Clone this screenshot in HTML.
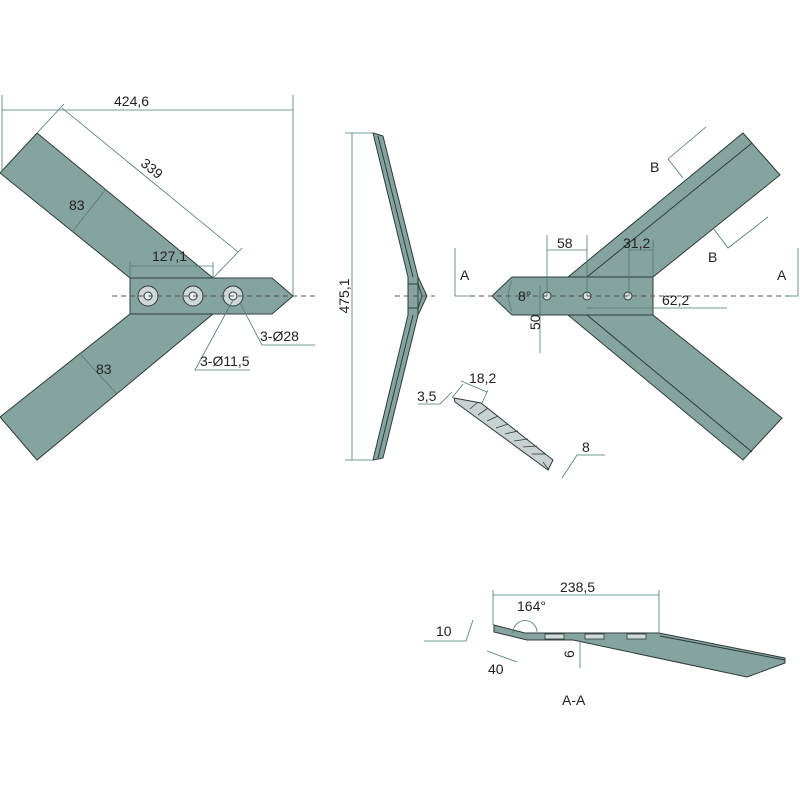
<!DOCTYPE html>
<html><head><meta charset="utf-8"><style>
html,body{margin:0;padding:0;background:#fff}
svg{display:block}
text{font-family:"Liberation Sans",sans-serif;font-size:14px;fill:#222}
</style></head><body>
<svg width="800" height="800" viewBox="0 0 800 800" xmlns="http://www.w3.org/2000/svg">
<g fill="#86a49f" stroke="#2c3b39" stroke-width="1">
<polygon points="37,133 213,278 130,278 0,173"/>
<polygon points="130,314 213,314 37,460 0,417"/>
<polygon points="130,278 272,278 293,296 272,314 130,314"/>
<polygon points="373,133 383,136 418,277 427,296 418,315 383,458 373,460 408,315 408,277"/>
<polygon points="568,277 743,133 780,175 653,277"/>
<polygon points="568,315 653,315 782,418 743,460"/>
<polygon points="512,277 653,277 653,315 512,315 492,296"/>
<polygon points="494,625 525,633 659,633 785,658 785,663 747,677 573,640 527,640 494,632"/>
</g>
<g fill="none" stroke="#2c3b39" stroke-width="1">
<line x1="378" y1="136" x2="413" y2="277"/><line x1="378" y1="458" x2="413" y2="315"/>
<line x1="418" y1="277" x2="418" y2="315"/>
<polyline points="408,284 418,284 422,296 418,308 408,308"/>
<line x1="587" y1="277" x2="752" y2="143"/><line x1="587" y1="315" x2="752" y2="452"/>
<line x1="660" y1="636" x2="785" y2="660"/>
</g>
<g stroke="#2c3b39" stroke-width="1">
<circle cx="148" cy="296" r="10" fill="#cfd8d6"/><circle cx="148" cy="296" r="4" fill="#e8eeed"/>
<circle cx="193" cy="296" r="10" fill="#cfd8d6"/><circle cx="193" cy="296" r="4" fill="#e8eeed"/>
<circle cx="233" cy="296" r="10" fill="#cfd8d6"/><circle cx="233" cy="296" r="4" fill="#e8eeed"/>
<circle cx="547" cy="296" r="4" fill="#d8e0de"/><circle cx="587" cy="296" r="4" fill="#d8e0de"/><circle cx="628" cy="296" r="4" fill="#d8e0de"/>
</g>
<g fill="#d2dad8" stroke="#2c3b39" stroke-width="0.8">
<rect x="545" y="634" width="19" height="5"/><rect x="585" y="634" width="19" height="5"/><rect x="627" y="634" width="19" height="5"/>
</g>
<polygon points="454,398 481,403 553,460 548,470 455,402" fill="#c8d2d0" stroke="#2c3b39"/>
<g stroke="#2c3b39" stroke-width="0.8">
<line x1="470" y1="409" x2="478" y2="402"/><line x1="478" y1="415" x2="488" y2="408"/>
<line x1="487" y1="421" x2="498" y2="416"/><line x1="496" y1="428" x2="508" y2="424"/>
<line x1="505" y1="434" x2="518" y2="431"/><line x1="514" y1="441" x2="528" y2="439"/>
<line x1="523" y1="447" x2="537" y2="446"/><line x1="532" y1="454" x2="546" y2="454"/>
<line x1="543" y1="462" x2="549" y2="470"/>
</g>
<g stroke="#555" stroke-width="1" stroke-dasharray="5,4" fill="none">
<line x1="112" y1="296" x2="315" y2="296"/>
<line x1="395" y1="296" x2="435" y2="296"/>
<line x1="470" y1="296" x2="790" y2="296"/>
</g>
<g stroke="#4a7a70" stroke-width="0.8" fill="none">
<line x1="2" y1="95" x2="2" y2="172"/><line x1="293" y1="95" x2="293" y2="296"/>
<line x1="2" y1="110" x2="293" y2="110"/>
<line x1="37" y1="133" x2="64" y2="104"/><line x1="213" y1="278" x2="242" y2="248"/>
<line x1="62" y1="108" x2="238" y2="252"/>
<line x1="72" y1="232" x2="106" y2="189"/><line x1="81" y1="355" x2="116" y2="393"/>
<line x1="130" y1="262" x2="130" y2="278"/><line x1="213" y1="262" x2="213" y2="278"/>
<line x1="130" y1="266" x2="213" y2="266"/>
<polyline points="240,303 262,345 315,345"/>
<polyline points="233,300 195,370 250,370"/>
<line x1="352" y1="133" x2="352" y2="460"/>
<line x1="345" y1="133" x2="375" y2="133"/><line x1="345" y1="460" x2="375" y2="460"/>
<polyline points="455,248 455,296 470,296"/><polyline points="798,248 798,296 785,296"/>
<polyline points="706,127 668,159 683,178"/><polyline points="768,217 728,248 713,228"/>
<line x1="547" y1="235" x2="547" y2="296"/><line x1="587" y1="235" x2="587" y2="296"/>
<line x1="547" y1="250" x2="587" y2="250"/>
<line x1="629" y1="240" x2="629" y2="296"/><line x1="653" y1="240" x2="653" y2="277"/>
<line x1="629" y1="250" x2="653" y2="250"/>
<line x1="587" y1="308" x2="727" y2="308"/>
<line x1="540" y1="285" x2="540" y2="353"/>
<path d="M512,281 Q505,296 512,311"/>
<line x1="463" y1="384" x2="452" y2="398"/><line x1="488" y1="390" x2="482" y2="403"/>
<line x1="461" y1="381" x2="487" y2="392"/>
<polyline points="418,404 440,404 452,392"/>
<polyline points="605,455 577,455 562,478"/>
<line x1="493" y1="590" x2="493" y2="625"/><line x1="659" y1="590" x2="659" y2="633"/>
<line x1="493" y1="595" x2="659" y2="595"/>
<path d="M513,633 A12,12 0 0 1 537,632"/>
<polyline points="424,641 466,641 473,620"/>
<line x1="487" y1="651" x2="517" y2="662"/>
<line x1="580" y1="640" x2="580" y2="668"/>
</g>
<text x="114" y="106">424,6</text>
<text x="140" y="172" transform="rotate(39 150 168)">339</text>
<text x="69" y="210">83</text>
<text x="96" y="374">83</text>
<text x="152" y="261">127,1</text>
<text x="260" y="341">3-Ø28</text>
<text x="200" y="366">3-Ø11,5</text>
<text x="345" y="300" transform="rotate(-90 345 296)" text-anchor="middle">475,1</text>
<text x="460" y="280">A</text><text x="777" y="280">A</text>
<text x="650" y="172">B</text><text x="708" y="262">B</text>
<text x="557" y="248">58</text><text x="623" y="248">31,2</text>
<text x="662" y="305">62,2</text>
<text x="518" y="301">8°</text>
<text x="540" y="338" transform="rotate(-90 536 334)">50</text>
<text x="469" y="383">18,2</text>
<text x="417" y="401">3,5</text>
<text x="582" y="452">8</text>
<text x="560" y="592">238,5</text>
<text x="517" y="611">164°</text>
<text x="436" y="636">10</text>
<text x="488" y="674">40</text>
<text x="572" y="664" transform="rotate(-90 570 660)">6</text>
<text x="562" y="705">A-A</text>
</svg>
</body></html>
